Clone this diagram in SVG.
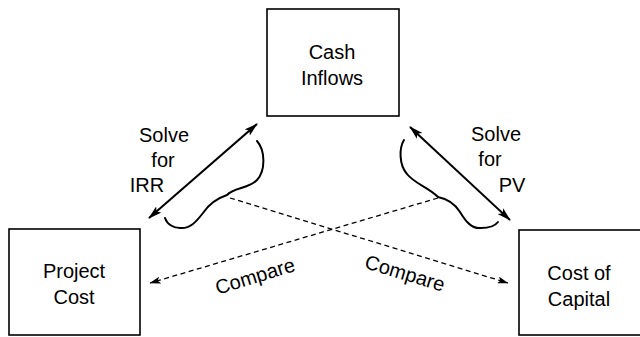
<svg xmlns="http://www.w3.org/2000/svg" width="640" height="337" viewBox="0 0 640 337">
  <style>
    .box { fill: #fff; stroke: #000; stroke-width: 1.6; }
    .lbl { font-family: "Liberation Sans", Arial, sans-serif; font-size: 20px; fill: #000; text-anchor: middle; }
    .solid { stroke: #000; stroke-width: 2; fill: none; }
    .dash { stroke: #000; stroke-width: 1.3; fill: none; stroke-dasharray: 5 3.5; }
    .brace { stroke: #000; stroke-width: 2; fill: none; stroke-linecap: round; }
  </style>
  <defs>
    <marker id="headSolid" viewBox="0 0 14 8" refX="13" refY="4" markerWidth="14" markerHeight="8" markerUnits="userSpaceOnUse" orient="auto-start-reverse">
      <path d="M0,0 L14,4 L0,8 L3,4 z" fill="#000"/>
    </marker>
    <marker id="headDash" viewBox="0 0 11 7" refX="10.5" refY="3.5" markerWidth="11" markerHeight="7" markerUnits="userSpaceOnUse" orient="auto">
      <path d="M0,0 L11,3.5 L0,7 L2.5,3.5 z" fill="#000"/>
    </marker>
  </defs>

  <rect width="640" height="337" fill="#fff"/>

  <g id="cash-inflows">
    <rect class="box" x="267" y="9" width="132" height="107"/>
    <text class="lbl" x="332" y="59">Cash</text>
    <text class="lbl" x="332" y="85">Inflows</text>
  </g>

  <g id="project-cost">
    <rect class="box" x="9" y="229" width="131" height="106"/>
    <text class="lbl" x="74" y="278">Project</text>
    <text class="lbl" x="74" y="304">Cost</text>
  </g>

  <g id="cost-of-capital">
    <rect class="box" x="519" y="230" width="131" height="105"/>
    <text class="lbl" x="579" y="280">Cost of</text>
    <text class="lbl" x="579" y="306">Capital</text>
  </g>

  <g id="connectors">
    <!-- double-headed solve arrows -->
    <line class="solid" x1="149" y1="218" x2="257" y2="124" marker-start="url(#headSolid)" marker-end="url(#headSolid)"/>
    <line class="solid" x1="410" y1="127" x2="510" y2="220" marker-start="url(#headSolid)" marker-end="url(#headSolid)"/>

    <!-- braces -->
    <path class="brace" d="M257,141 C265,150 266,170 257,180 C249,189 234,187 227,195 C218,198 209,204 203,213 C196,222 190,229 180,228 C173,228 167,224 165,218"/>
    <path class="brace" d="M404,140 C399,148 399,165 407,174 C415,184 428,187 438,197 C448,199 455,204 460,212 C466,222 472,229 481,228 C489,228 495,226 498,222"/>

    <!-- compare lines -->
    <line class="dash" x1="230" y1="198" x2="508" y2="283" marker-end="url(#headDash)"/>
    <line class="dash" x1="438" y1="198" x2="150" y2="283" marker-end="url(#headDash)"/>

    <!-- labels -->
    <text class="lbl" x="164" y="142">Solve</text>
    <text class="lbl" x="163" y="167">for</text>
    <text class="lbl" x="147" y="192">IRR</text>

    <text class="lbl" x="496" y="141">Solve</text>
    <text class="lbl" x="490" y="166">for</text>
    <text class="lbl" x="512" y="192">PV</text>

    <text class="lbl" x="255" y="283" transform="rotate(-17 255 276)">Compare</text>
    <text class="lbl" x="405" y="280" transform="rotate(17 405 273)">Compare</text>
  </g>
</svg>
